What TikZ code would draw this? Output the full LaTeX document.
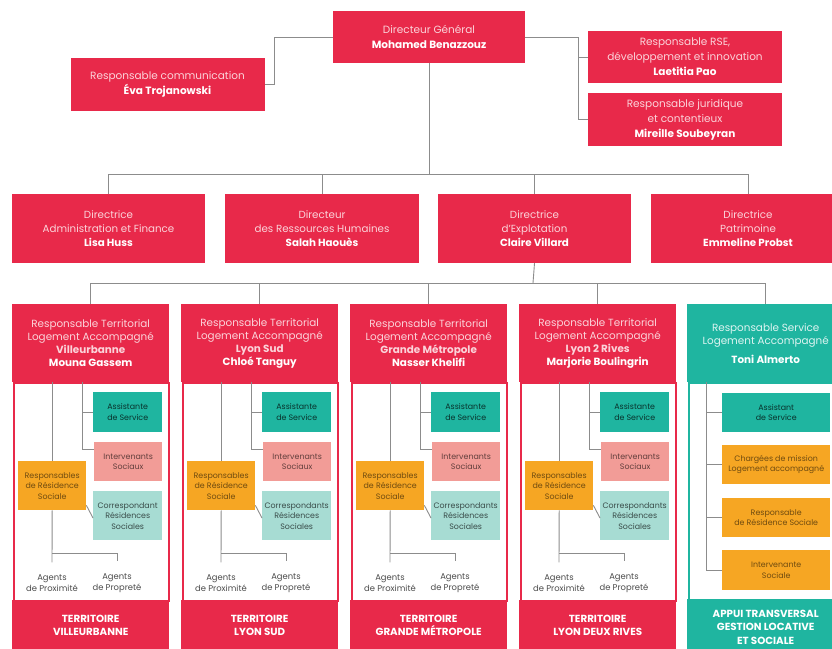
\documentclass[tikz,border=0pt]{standalone}
\usepackage{fontspec}
\setmainfont{Poppins}
\definecolor{cred}{HTML}{E8294A}
\definecolor{cpink}{HTML}{FBD3DA}
\definecolor{cteal}{HTML}{1FB5A0}
\definecolor{csalmon}{HTML}{F29C97}
\definecolor{cltteal}{HTML}{A7DCD3}
\definecolor{corange}{HTML}{F6A623}
\definecolor{cgray}{HTML}{8C8C8C}
\tikzset{
  redbox/.style={fill=cred, draw=none, text=cpink, align=center, inner sep=0pt,
    font=\fontsize{10.5}{15}\selectfont},
  colhead/.style={fill=cred, draw=none, text=cpink, align=center, inner sep=0pt,
    minimum width=157pt, minimum height=78pt, anchor=north west,
    font=\fontsize{10.4}{13}\selectfont},
  colbody/.style={fill=white, draw=cred, line width=2.4pt, inner sep=0pt,
    minimum width=155pt, minimum height=218pt, anchor=north west},
  colfoot/.style={fill=cred, draw=none, text=white, align=center, inner sep=0pt,
    minimum width=157pt, minimum height=50pt, anchor=north west,
    font=\fontsize{10.3}{13.5}\selectfont\bfseries},
  smallbox/.style={draw=none, align=center, inner sep=0pt, anchor=north west,
    font=\fontsize{7.9}{10.5}\selectfont},
  asstbox/.style={smallbox, fill=cteal, text=black!30!cteal!40!black},
  interbox/.style={smallbox, fill=csalmon, text=csalmon!40!black},
  corrbox/.style={smallbox, fill=cltteal, text=cltteal!35!black},
  orngbox/.style={smallbox, fill=corange, text=corange!45!black},
  agent/.style={align=center, inner sep=0pt, text=black!70, font=\fontsize{8.4}{11}\selectfont},
  conn/.style={draw=cgray, line width=0.9pt}
}
\begin{document}
\begin{tikzpicture}[x=1pt,y=-1pt]
\useasboundingbox (0,0) rectangle (832,648);
\clip (0,0) rectangle (832,648);
\fill[white] (0,0) rectangle (832,648);

% top level
\node[redbox, minimum width=192pt, minimum height=52pt] (dg) at (429,37)
  {Directeur Général\\\textcolor{white}{\bfseries Mohamed Benazzouz}};
\node[redbox, minimum width=194pt, minimum height=53pt] (comm) at (167.5,84.5)
  {Responsable communication\\\textcolor{white}{\bfseries Éva Trojanowski}};
\node[redbox, minimum width=194pt, minimum height=52pt] (rse) at (685,57)
  {Responsable RSE,\\développement et innovation\\\textcolor{white}{\bfseries Laetitia Pao}};
\node[redbox, minimum width=194pt, minimum height=53pt] (jur) at (685,119.5)
  {Responsable juridique\\et contentieux\\\textcolor{white}{\bfseries Mireille Soubeyran}};

\draw[conn] (dg.west) -- (274,37) |- (comm.east);
\coordinate (rj) at (578,37);
\draw[conn] (dg.east) -- (rj);
\draw[conn] (rj) |- (rse.west);
\draw[conn] (rj) |- (jur.west);

% directors
\node[redbox, minimum width=193pt, minimum height=69pt, font=\fontsize{10.3}{13.8}\selectfont] (d1) at (108.5,228.5)
  {Directrice\\Administration et Finance\\\textcolor{white}{\bfseries Lisa Huss}};
\node[redbox, minimum width=194pt, minimum height=69pt, font=\fontsize{10.3}{13.8}\selectfont] (d2) at (322,228.5)
  {Directeur\\des Ressources Humaines\\\textcolor{white}{\bfseries Salah Haouès}};
\node[redbox, minimum width=193pt, minimum height=69pt, font=\fontsize{10.3}{13.8}\selectfont] (d3) at (534.5,228.5)
  {Directrice\\d’Explotation\\\textcolor{white}{\bfseries Claire Villard}};
\node[redbox, minimum width=194pt, minimum height=69pt, font=\fontsize{10.3}{13.8}\selectfont] (d4) at (748,228.5)
  {Directrice\\Patrimoine\\\textcolor{white}{\bfseries Emmeline Probst}};

\coordinate (bus1) at (429,174);
\draw[conn] (dg.south) -- (bus1);
\draw[conn] (bus1 -| d1.north) -- (bus1 -| d4.north);
\foreach \i in {1,...,4} \draw[conn] (d\i.north) -- (d\i.north |- bus1);

% territorial columns
\foreach \i/\x/\place/\who/\corr/\terr in {
  1/12/Villeurbanne/Mouna Gassem/Correspondant/VILLEURBANNE,
  2/181/Lyon Sud/Chloé Tanguy/Correspondants/LYON SUD,
  3/350/Grande Métropole/Nasser Khelifi/Correspondants/GRANDE MÉTROPOLE,
  4/519/Lyon 2 Rives/Marjorie Boulingrin/Correspondants/LYON DEUX RIVES}{
  \node[colbody] (b\i) at (\x+1,382) {};
  \node[colhead] (h\i) at (\x,304)
    {Responsable Territorial\\Logement Accompagné\\\textbf{\place}\\\textcolor{white}{\bfseries\who}};
  \node[colfoot] (f\i) at (\x,600) {TERRITOIRE\\\terr};
  \node[asstbox, minimum width=69pt, minimum height=40pt] (as\i) at (\x+81,392) {Assistante\\de Service};
  \node[interbox, minimum width=68pt, minimum height=39pt] (in\i) at (\x+82,442) {Intervenants\\Sociaux};
  \node[orngbox, minimum width=68pt, minimum height=49pt] (or\i) at (\x+6,461) {Responsables\\de Résidence\\Sociale};
  \node[corrbox, minimum width=69pt, minimum height=49pt] (co\i) at (\x+81,491) {\corr\\Résidences\\Sociales};
  \node[agent] (ap\i) at (\x+40,583) {Agents\\de Proximité};
  \node[agent] (ac\i) at (\x+105,583) {Agents\\de Propreté};
  \draw[conn] (or\i.north |- h\i.south) -- (or\i.north);
  \draw[conn] (\x+70,382) |- (as\i.west);
  \draw[conn] (\x+70,382) |- ([yshift=-7pt]in\i.north west);
  \draw[conn] ([yshift=5pt]or\i.south east) -- ([yshift=-27pt]co\i.north west);
  \draw[conn] (or\i.south) -- ([yshift=12pt]ap\i.north);
  \draw[conn] ([yshift=21pt]ap\i.north) -| ([yshift=12pt]ac\i.north);
}

% transversal column
\node[colbody, draw=cteal] (b5) at (688,382) {};
\node[colhead, fill=cteal, text=white!85!cteal] (h5) at (687,304)
  {Responsable Service\\Logement Accompagné\\[6pt]\textcolor{white}{\bfseries Toni Almerto}};
\node[colfoot, fill=cteal, minimum height=56pt, font=\fontsize{10.3}{13.5}\selectfont\bfseries] (f5) at (687,599)
  {APPUI TRANSVERSAL\\GESTION LOCATIVE\\ET SOCIALE};
\node[asstbox, minimum width=108pt, minimum height=39pt] (t1) at (722,393) {Assistant\\de Service};
\node[orngbox, minimum width=108pt, minimum height=39pt] (t2) at (722,445) {Chargées de mission\\Logement accompagné};
\node[orngbox, minimum width=108pt, minimum height=39pt] (t3) at (722,498) {Responsable\\de Résidence Sociale};
\node[orngbox, minimum width=108pt, minimum height=40pt] (t4) at (722,550) {Intervenante\\Sociale};
\coordinate (tv) at (706,382);
\draw[conn] (tv) |- (t4.west);
\foreach \j in {1,2,3} \draw[conn] (tv |- t\j.west) -- (t\j.west);

% bus to columns
\coordinate (bus2) at (533,283);
\draw[conn] (d3.south) -- (bus2);
\draw[conn] (bus2 -| h1.north) -- (bus2 -| h5.north);
\foreach \i in {1,...,5} \draw[conn] (h\i.north) -- (h\i.north |- bus2);
\end{tikzpicture}
\end{document}
